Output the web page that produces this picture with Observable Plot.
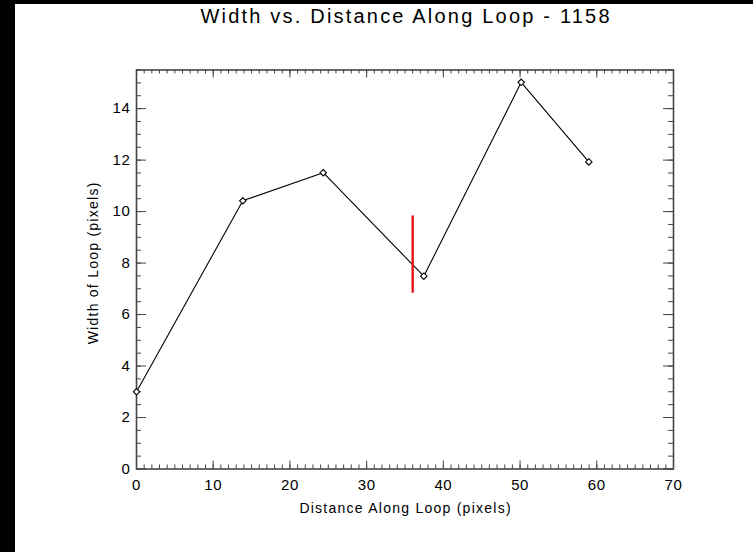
<!DOCTYPE html>
<html>
<head>
<meta charset="utf-8">
<script src="https://cdn.jsdelivr.net/npm/d3@7"></script>
<script src="https://cdn.jsdelivr.net/npm/@observablehq/plot@0.6"></script>
<style>
  html, body { margin: 0; padding: 0; background: #000; width: 753px; height: 552px; overflow: hidden; }
  #chart { margin-left: 15px; margin-top: 4px; width: 738px; height: 548px; background: #fff; }
  #chart svg { display: block; background: #fff; }
</style>
</head>
<body>
<div id="chart"></div>
<script>
// Loop width sampled along the loop (loop 1158)
const distance = [0, 13.86, 24.34, 37.45, 50.15, 58.96];
const width    = [3.0, 10.42, 11.51, 7.49, 15.02, 11.93];

// Vertical marker at the narrowest point
const markerX = [36];
const markerLow = [6.83];
const markerHigh = [9.83];

// Tick values
const xMajor = [0, 10, 20, 30, 40, 50, 60, 70];
const xMinor = d3.range(0, 71, 1);
const yMajor = [0, 2, 4, 6, 8, 10, 12, 14];
const yMinor = d3.range(0, 15.51, 0.5);

const titleText = "Width vs. Distance Along Loop - 1158";
const xLabel = "Distance Along Loop (pixels)";
const yLabel = "Width of Loop (pixels)";

const W = 738, H = 548;
const mL = 121, mR = 80, mT = 65.5, mB = 83.5;
const fw = W - mL - mR, fh = H - mT - mB;

const points = distance.map((d, i) => ({distance: d, width: width[i]}));
const marker = markerX.map((x, i) => ({x, y1: markerLow[i], y2: markerHigh[i]}));

const axisColor = "#444";
const font = "'Liberation Sans', Arial, sans-serif";

const chart = Plot.plot({
  width: W,
  height: H,
  marginLeft: mL,
  marginRight: mR,
  marginTop: mT,
  marginBottom: mB,
  style: {fontFamily: font, color: "#000", background: "#fff"},
  x: {domain: [0, 70]},
  y: {domain: [0, 15.5]},
  marks: [
    // inward ticks on all four sides
    Plot.tickX(xMinor, {x: d => d, insetTop: fh - 4, stroke: axisColor}),
    Plot.tickX(xMajor, {x: d => d, insetTop: fh - 8, stroke: axisColor}),
    Plot.tickX(xMinor, {x: d => d, insetBottom: fh - 4, stroke: axisColor}),
    Plot.tickX(xMajor, {x: d => d, insetBottom: fh - 8, stroke: axisColor}),
    Plot.tickY(yMinor, {y: d => d, insetRight: fw - 5, stroke: axisColor}),
    Plot.tickY(yMajor, {y: d => d, insetRight: fw - 10, stroke: axisColor}),
    Plot.tickY(yMinor, {y: d => d, insetLeft: fw - 5, stroke: axisColor}),
    Plot.tickY(yMajor, {y: d => d, insetLeft: fw - 10, stroke: axisColor}),
    Plot.frame({stroke: axisColor, strokeWidth: 1.6}),
    Plot.axisX({anchor: "bottom", ticks: xMajor, tickSize: 0, tickPadding: 10, fontSize: 15, label: null, tickFormat: d => String(d)}),
    Plot.axisY({anchor: "left", ticks: yMajor, tickSize: 0, tickPadding: 6, fontSize: 15, label: null, tickFormat: d => String(d)}),
    Plot.line(points, {x: "distance", y: "width", stroke: "#000", strokeWidth: 1.1}),
    Plot.dot(points, {x: "distance", y: "width", symbol: "diamond2", r: 2.9, fill: "#fff", stroke: "#000", strokeWidth: 1.1}),
    Plot.ruleX(marker, {x: "x", y1: "y1", y2: "y2", stroke: "#e8141c", strokeWidth: 2.4}),
    Plot.text([titleText], {frameAnchor: "top", textAnchor: "middle", lineAnchor: "middle", dy: -53, dx: 1.1, fontSize: 20, fill: "#000", text: d => d}),
    Plot.text([xLabel], {frameAnchor: "bottom", textAnchor: "middle", lineAnchor: "middle", dy: 39.5, dx: 0.6, fontSize: 14, fill: "#000", text: d => d}),
    Plot.text([yLabel], {frameAnchor: "left", textAnchor: "middle", lineAnchor: "middle", dx: -43, dy: -6.6, rotate: -90, fontSize: 14, fill: "#000", text: d => d})
  ]
});

// wider letter spacing for the lettering
const spacing = new Map([[titleText, "2.2px"], [xLabel, "1.25px"], [yLabel, "1.25px"]]);
chart.querySelectorAll("text").forEach(t => {
  const s = spacing.get(t.textContent);
  if (s) t.style.letterSpacing = s;
  else if (/^\d+$/.test(t.textContent)) t.style.letterSpacing = "0.6px";
});

document.getElementById("chart").appendChild(chart);
</script>
</body>
</html>
